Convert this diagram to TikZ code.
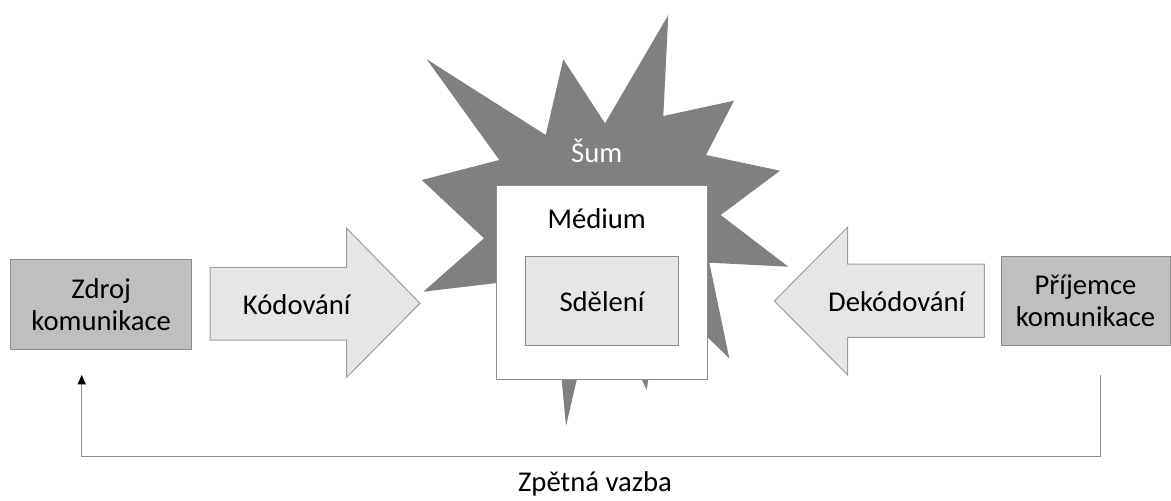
\documentclass[tikz,border=0pt]{standalone}
\usepackage{fontspec}
\setmainfont{Carlito}
\usetikzlibrary{arrows.meta}

\definecolor{sumgray}{RGB}{128,128,128}
\definecolor{boxgray}{RGB}{191,191,191}
\definecolor{lightgray}{RGB}{230,230,230}
\definecolor{edgegray}{RGB}{140,140,140}

\tikzset{every picture/.style={line width=0.75pt}}
\tikzset{
  txt/.style={inner sep=0.75pt, align=center, font=\fontsize{21.5}{24}\selectfont},
  graybox/.style={draw=edgegray, fill=boxgray, inner sep=0pt},
  blockarrow/.style={draw=edgegray!85, fill=lightgray},
  fbline/.style={draw=edgegray, -{Triangle[color=black,width=6pt,length=7pt]}}
}

\begin{document}
\begin{tikzpicture}[x=0.75pt,y=0.75pt,yscale=-1,xscale=1]
	\path (0,0) rectangle (1171,500); %set diagram size

	%Noise star
	\fill [sumgray] (668.3,15) -- (663.3,116) -- (734,100.7) -- (706,155) -- (780,170.7) -- (720.7,215) -- (788.3,266.7) -- (709.3,262.7) -- (729.3,358.3) -- (708.3,338) -- (653.4,345) -- (646.7,390) -- (623.3,340) -- (588.3,330) -- (566,426) -- (557,330) -- (496.7,283) -- (423.3,291.7) -- (484,238.3) -- (421.7,180) -- (499.3,160) -- (426.7,59.3) -- (545.7,135) -- (563.3,59.3) -- (605,123.3) -- cycle ;

	%Medium box
	\node [draw=edgegray, fill=white, minimum width=158pt, minimum height=145.7pt] (medium) at (602,282.2) {};
	%Message box
	\node [draw=edgegray, fill=lightgray, minimum width=114.5pt, minimum height=66.75pt, txt] (sdeleni) at (602,301.2) {Sdělení};

	%Block arrows
	\draw [blockarrow] (210,267.3) -- (346.7,267.3) -- (346.7,228.3) -- (420,303.3) -- (346.7,377.3) -- (346.7,340) -- (210,340) -- cycle ;
	\draw [blockarrow] (984.3,264) -- (847.7,264) -- (847.7,227) -- (774.3,301) -- (847.7,375) -- (847.7,337.3) -- (984.3,337.3) -- cycle ;

	%Source and receiver
	\node [graybox, minimum width=135.75pt, minimum height=67.3pt, txt] (zdroj) at (101.2,304.2) {Zdroj\\komunikace};
	\node [graybox, minimum width=126.75pt, minimum height=66.5pt, txt] (prijemce) at (1085.5,301) {Příjemce\\komunikace};

	% Text Node
	\node [txt, text=white] (sum) at (596.7,150.5) {Šum};
	% Text Node
	\node [txt] (mediumlabel) at (596.7,219) {Médium};
	% Text Node
	\node [txt] (kodovani) at (296.7,305) {Kódování};
	% Text Node
	\node [txt] (dekodovani) at (896.7,301.7) {Dekódování};
	% Text Node
	\node [txt] (zpetna) at (595,484) {Zpětná vazba};

	%Feedback line
	\coordinate (fbS) at (1100,375);
	\coordinate (fbE) at (81.7,375);
	\draw [fbline] (fbS) -- ++(0,81.7) -| (fbE) ;

\end{tikzpicture}
\end{document}
